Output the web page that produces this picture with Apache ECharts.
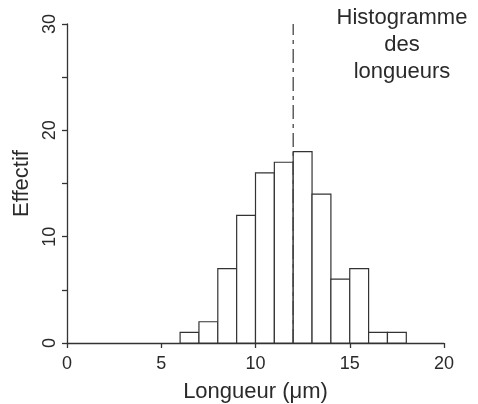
<!DOCTYPE html>
<html>
<head>
<meta charset="utf-8">
<script src="https://cdn.jsdelivr.net/npm/echarts@6/dist/echarts.min.js"></script>
<style>html,body{margin:0;padding:0;background:#fff;}#c{width:478px;height:404px;}</style>
</head>
<body>
<div id="c"></div>
<script>
var binStarts = [6, 7, 8, 9, 10, 11, 12, 13, 14, 15, 16, 17];
var binEnds   = [7, 8, 9, 10, 11, 12, 13, 14, 15, 16, 17, 18];
var counts    = [1, 2, 7, 12, 16, 17, 18, 14, 6, 7, 1, 1];
var meanValue = 12;
var xTicks = [0, 5, 10, 15, 20];
var yLabelTicks = [0, 10, 20, 30];
var titleLines = ['Histogramme', 'des', 'longueurs'];

var data = binStarts.map(function (s, i) { return [s, binEnds[i], counts[i]]; });
var FONT = '"Liberation Sans", Arial, sans-serif';
var chart = echarts.init(document.getElementById('c'), null, {renderer: 'canvas'});
chart.setOption({
  animation: false,
  backgroundColor: '#fff',
  title: {
    text: titleLines.join('\n'),
    left: 402, top: 4,
    textAlign: 'center',
    padding: 0,
    textStyle: {fontFamily: FONT, fontSize: 22, fontWeight: 'normal', color: '#2a2a2a', lineHeight: 27, align: 'center'}
  },
  grid: {left: 67, right: 34, top: 24, bottom: 61, outerBoundsMode: 'none', containLabel: false},
  xAxis: {
    type: 'value', min: 0, max: 20, interval: 5,
    name: 'Longueur (\u03bcm)', nameLocation: 'middle', nameGap: 38,
    nameTextStyle: {fontFamily: FONT, fontSize: 22, color: '#2a2a2a'},
    axisLine: {show: true, onZero: false, lineStyle: {color: '#333', width: 1.3}},
    axisTick: {show: true, length: 5, lineStyle: {color: '#333', width: 1.3}},
    axisLabel: {fontFamily: FONT, fontSize: 18, color: '#2a2a2a', margin: 12,
      formatter: function (v) { return xTicks.indexOf(v) >= 0 ? String(v) : ''; }},
    splitLine: {show: false}
  },
  yAxis: {
    type: 'value', min: 0, max: 30, interval: 5,
    name: 'Effectif', nameLocation: 'middle', nameGap: 24,
    nameTextStyle: {fontFamily: FONT, fontSize: 22, color: '#2a2a2a'},
    axisLine: {show: true, lineStyle: {color: '#333', width: 1.3}},
    axisTick: {show: true, length: 5, lineStyle: {color: '#333', width: 1.3}},
    axisLabel: {fontFamily: FONT, fontSize: 18, color: '#2a2a2a', rotate: 90, margin: 8,
      formatter: function (v) { return yLabelTicks.indexOf(v) >= 0 ? String(v) : ''; }},
    splitLine: {show: false}
  },
  series: [{
    type: 'custom',
    data: data,
    renderItem: function (params, api) {
      var p0 = api.coord([api.value(0), 0]);
      var p1 = api.coord([api.value(1), api.value(2)]);
      return {
        type: 'rect',
        shape: {x: p0[0], y: p1[1], width: p1[0] - p0[0], height: p0[1] - p1[1]},
        style: {fill: '#fff', stroke: '#333', lineWidth: 1.2}
      };
    },
    encode: {x: [0, 1], y: 2},
    z: 2
  }, {
    type: 'line',
    data: [[meanValue, 0], [meanValue, 30]],
    symbol: 'none',
    lineStyle: {color: '#444', width: 1.3, type: [14, 5, 4, 5]},
    z: 3
  }]
});
</script>
</body>
</html>
